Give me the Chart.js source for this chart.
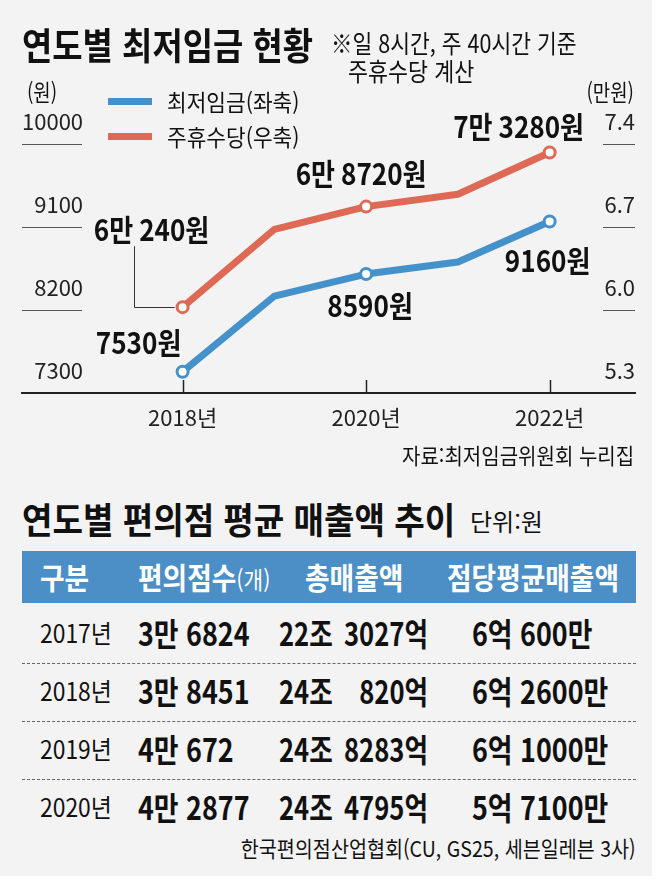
<!DOCTYPE html>
<html lang="ko">
<head>
<meta charset="utf-8">
<script src="https://cdn.jsdelivr.net/npm/chart.js@4.4.1/dist/chart.umd.min.js"></script>
<style>
  body { margin: 0; background: #fff; font-family: "Noto Sans CJK KR", sans-serif; color: #111; }
  #panel { position: relative; width: 652px; height: 876px; background: #f3f3f3; overflow: hidden; }
  #chart { position: absolute; left: 0; top: 0; }
  .t { position: absolute; white-space: pre; line-height: 1; }
  #legend-container { position: absolute; left: 108px; top: 0; }
  #legend-container .item { position: absolute; left: 0; display: flex; align-items: center; height: 24px; }
  #legend-container .bar { width: 44px; height: 7px; margin-right: 15px; flex: none; }
  #legend-container .lbl { font-size: 23px; line-height: 1; white-space: pre; transform: scaleX(0.93); transform-origin: left center; }
  .dash { position: absolute; left: 22px; width: 614px; height: 0; border-top: 1.5px dashed #666; }
  #thead { position: absolute; left: 22px; top: 551px; width: 614px; height: 52px; background: #4b8fc6; }
</style>
</head>
<body>
<div id="panel">
  <canvas id="chart" width="652" height="451"></canvas>
  <div id="legend-container"></div>
  <div id="thead"></div>
</div>
<script>
// 최저임금 / 주휴수당 (연도별)
const years = [2018, 2019, 2020, 2021, 2022];
const minWage = [7530, 8350, 8590, 8720, 9160];          // 원 (left axis)
const holidayPay = [6.024, 6.68, 6.872, 6.976, 7.328];   // 만원 (right axis)
const markedYears = [2018, 2020, 2022];
const xTicks = [2018, 2020, 2022];
const leftTicks = [7300, 8200, 9100, 10000];
const rightTicks = [5.3, 6.0, 6.7, 7.4];

// 편의점 평균 매출액 표
const tableHeads = ['구분', '편의점수(개)', '총매출액', '점당평균매출액'];
const tableYears = ['2017년', '2018년', '2019년', '2020년'];
const storeCounts = ['3만 6824', '3만 8451', '4만 672', '4만 2877'];
const totalSales = ['22조 3027억', '24조 820억', '24조 8283억', '24조 4795억'];
const avgSales = ['6억 600만', '6억 2600만', '6억 1000만', '5억 7100만'];

const FONT = '"Noto Sans CJK KR", sans-serif';
const BLUE = 'rgb(69,145,202)';
const RED = 'rgb(222,106,86)';
const panel = document.getElementById('panel');

function addText(txt, x, cy, size, opts = {}) {
    const d = document.createElement('div');
    d.className = 't';
    if (opts.html) d.innerHTML = txt; else d.textContent = txt;
    d.style.fontSize = size + 'px';
    d.style.top = (cy - size * 0.55) + 'px';
    if (opts.bold) d.style.fontWeight = 700;
    if (opts.color) d.style.color = opts.color;
    const sx = opts.sx || 0.82;
    if (opts.align === 'right') {
        d.style.right = (652 - x) + 'px';
        d.style.transformOrigin = 'right center';
    } else {
        d.style.left = x + 'px';
        d.style.transformOrigin = 'left center';
    }
    d.style.transform = 'scaleX(' + sx + ')';
    panel.appendChild(d);
    return d;
}

function wonLabel(v) { return v + '원'; }
function manLabel(v) {
    const n = Math.round(v * 10000);
    return Math.floor(n / 10000) + '만 ' + (n % 10000) + '원';
}

// draws tick marks, short gridline stubs, point labels and the leader line
const decorPlugin = {
    id: 'decor',
    beforeDatasetsDraw(chart) {
        const {ctx, chartArea, scales} = chart;
        ctx.save();
        ctx.strokeStyle = '#222';
        ctx.lineWidth = 1.5;
        scales.x.ticks.forEach(t => {
            const px = Math.round(scales.x.getPixelForValue(t.value)) + 0.5;
            ctx.beginPath();
            ctx.moveTo(px, chartArea.bottom - 13);
            ctx.lineTo(px, chartArea.bottom);
            ctx.stroke();
        });
        ctx.strokeStyle = '#555';
        ctx.lineWidth = 1;
        scales.y.ticks.slice(1).forEach(t => {
            const py = Math.round(scales.y.getPixelForValue(t.value)) + 0.5;
            ctx.beginPath();
            ctx.moveTo(chartArea.left, py);
            ctx.lineTo(chartArea.left + 60, py);
            ctx.stroke();
        });
        scales.y1.ticks.slice(1).forEach(t => {
            const py = Math.round(scales.y1.getPixelForValue(t.value)) + 0.5;
            ctx.beginPath();
            ctx.moveTo(chartArea.right - 32, py);
            ctx.lineTo(chartArea.right, py);
            ctx.stroke();
        });
        ctx.restore();
    },
    afterDatasetsDraw(chart, args, opts) {
        const {ctx} = chart;
        ctx.save();
        // leader line for the first 주휴수당 label
        const lp = chart.getDatasetMeta(opts.leader.dataset).data[opts.leader.index];
        ctx.strokeStyle = '#333';
        ctx.lineWidth = 1;
        ctx.beginPath();
        ctx.moveTo(Math.round(lp.x + opts.leader.dx) + 0.5, lp.y + opts.leader.dy);
        ctx.lineTo(Math.round(lp.x + opts.leader.dx) + 0.5, Math.round(lp.y) + 0.5);
        ctx.lineTo(lp.x - 8, Math.round(lp.y) + 0.5);
        ctx.stroke();

        ctx.font = 'bold 30px ' + FONT;
        ctx.fillStyle = '#111';
        ctx.textAlign = 'center';
        ctx.textBaseline = 'middle';
        chart.data.datasets.forEach((ds, di) => {
            const meta = chart.getDatasetMeta(di);
            ds.data.forEach((p, i) => {
                const off = opts.offsets[di][i];
                if (!off) return;
                const el = meta.data[i];
                ctx.save();
                ctx.translate(el.x + off[0], el.y + off[1]);
                ctx.scale(0.87, 1);
                ctx.fillText(opts.formats[di](p.y), 0, 0);
                ctx.restore();
            });
        });
        ctx.restore();
    }
};

const lineStyle = {
    borderWidth: 7,
    borderJoinStyle: 'round',
    tension: 0,
    pointBackgroundColor: '#fff',
    pointBorderWidth: 3,
    pointRadius: ctx => markedYears.includes(ctx.raw.x) ? 5.5 : 0,
    pointHoverRadius: ctx => markedYears.includes(ctx.raw.x) ? 5.5 : 0
};

const data1 = {
    datasets: [{
        label: '최저임금(좌축)',
        data: years.map((x, i) => ({x: x, y: minWage[i]})),
        yAxisID: 'y',
        borderColor: BLUE,
        pointBorderColor: BLUE,
        ...lineStyle
    }, {
        label: '주휴수당(우축)',
        data: years.map((x, i) => ({x: x, y: holidayPay[i]})),
        yAxisID: 'y1',
        borderColor: RED,
        pointBorderColor: RED,
        ...lineStyle
    }]
};

const config1 = {
    type: 'line',
    data: data1,
    options: {
        responsive: false,
        animation: false,
        layout: {padding: {left: 22, right: 17, top: 144, bottom: 9.6}},
        plugins: {
            legend: {display: false},
            tooltip: {enabled: false},
            decor: {
                offsets: [
                    [[-44, -29], null, [4, 32], null, [-2, 39]],
                    [[-31, -78], null, [-5, -33], null, [-31, -26]]
                ],
                formats: [wonLabel, manLabel],
                leader: {dataset: 1, index: 0, dx: -49, dy: -61}
            }
        },
        scales: {
            x: {
                type: 'linear',
                min: 2016.25,
                max: 2022.93,
                afterBuildTicks: s => { s.ticks = xTicks.map(v => ({value: v})); },
                grid: {display: false, drawTicks: false},
                border: {display: true, color: '#222', width: 2},
                ticks: {
                    autoSkip: false, maxRotation: 0, padding: 11,
                    color: '#222', font: {family: FONT, size: 22},
                    callback: v => v + '년'
                }
            },
            y: {
                position: 'left',
                min: 7300,
                max: 10000,
                afterBuildTicks: s => { s.ticks = leftTicks.map(v => ({value: v})); },
                grid: {display: false, drawTicks: false},
                border: {display: false},
                ticks: {
                    mirror: true, crossAlign: 'far', padding: 0, labelOffset: -22, autoSkip: false,
                    color: '#222', font: {family: FONT, size: 22},
                    callback: v => String(v)
                }
            },
            y1: {
                position: 'right',
                min: 5.3,
                max: 7.4,
                afterBuildTicks: s => { s.ticks = rightTicks.map(v => ({value: v})); },
                grid: {display: false, drawTicks: false},
                border: {display: false},
                ticks: {
                    mirror: true, crossAlign: 'far', padding: 0, labelOffset: -22, autoSkip: false,
                    color: '#222', font: {family: FONT, size: 22},
                    callback: v => v.toFixed(1)
                }
            }
        }
    },
    plugins: [decorPlugin]
};

const chart1 = new Chart(document.getElementById('chart').getContext('2d'), config1);

// HTML legend from the datasets
const legendBox = document.getElementById('legend-container');
const legendRowY = [101, 136];
chart1.data.datasets.forEach((ds, i) => {
    const item = document.createElement('div');
    item.className = 'item';
    item.style.top = (legendRowY[i] - 12) + 'px';
    const bar = document.createElement('span');
    bar.className = 'bar';
    bar.style.background = ds.borderColor;
    const lbl = document.createElement('span');
    lbl.className = 'lbl';
    lbl.textContent = ds.label;
    item.appendChild(bar);
    item.appendChild(lbl);
    legendBox.appendChild(item);
});

// titles and notes
addText('연도별 최저임금 현황', 22, 46, 37, {bold: true, sx: 0.89});
addText('※일 8시간, 주 40시간 기준', 331, 44, 25, {sx: 0.86});
addText('주휴수당 계산', 348, 72, 25, {sx: 0.87});
addText('(원)', 27, 93, 23);
addText('(만원)', 634, 93, 23, {align: 'right'});
addText('자료:최저임금위원회 누리집', 634, 455, 22, {align: 'right', sx: 0.91});

addText('연도별 편의점 평균 매출액 추이', 22, 520, 36, {bold: true, sx: 0.92});
addText('단위:원', 470, 522, 24, {sx: 1.0});

// table
const headX = [40, 138, 305, 447];
tableHeads.forEach((h, i) => {
    const html = h.replace(/\((.*)\)/, '<span style="font-size:24px;font-weight:400">($1)</span>');
    addText(html, headX[i], 577, 30, {bold: true, color: '#fff', html: true, sx: 0.89});
});
const rowTop = 605, rowH = 58;
tableYears.forEach((y, r) => {
    const cy = rowTop + rowH * r + rowH / 2;
    addText(y, 40, cy, 25, {sx: 0.915});
    addText(storeCounts[r], 138, cy, 32, {bold: true, sx: 0.84});
    const parts = totalSales[r].split(' ');
    addText(parts[0], 279, cy, 32, {bold: true, sx: 0.8});
    addText(parts[1], 428, cy, 32, {bold: true, sx: 0.8, align: 'right'});
    addText(avgSales[r], 472, cy, 32, {bold: true, sx: 0.84});
    if (r < tableYears.length - 1) {
        const d = document.createElement('div');
        d.className = 'dash';
        d.style.top = (rowTop + rowH * (r + 1)) + 'px';
        panel.appendChild(d);
    }
});
addText('한국편의점산업협회(CU, GS25, 세븐일레븐 3사)', 636, 848, 22, {align: 'right', sx: 0.89});
</script>
</body>
</html>
